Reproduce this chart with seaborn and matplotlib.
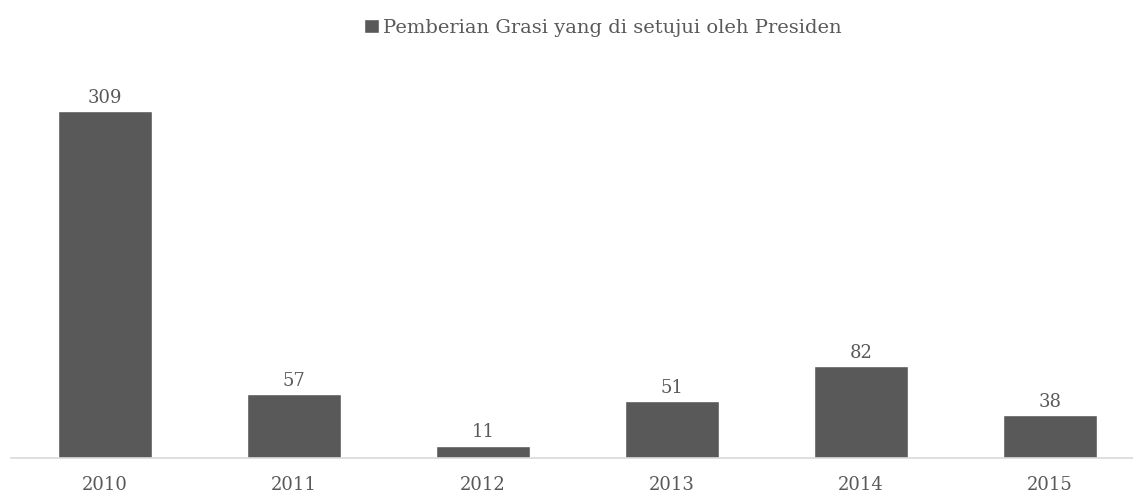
"""
Grasi yang disetujui Presiden per tahun, 2010-2015
"""

import pandas as pd
import seaborn as sns
import matplotlib.pyplot as plt

years = ["2010", "2011", "2012", "2013", "2014", "2015"]
grasi = [309, 57, 11, 51, 82, 38]
series_name = "Pemberian Grasi yang di setujui oleh Presiden"

df = pd.DataFrame({"tahun": years, "grasi": grasi})

sns.set_style("white")
plt.rcParams["font.family"] = ["DejaVu Serif", "DejaVu Sans"]

bar_color = "#595959"
text_color = "#595959"

fig = plt.figure(figsize=(11.33, 4.95), dpi=100)
# axes placed so the baseline sits near the bottom and slots span the width
ax = fig.add_axes([10.5 / 1133, 37 / 495, 1134 / 1133, 398 / 495])

sns.barplot(data=df, x="tahun", y="grasi", color=bar_color, width=0.5,
            saturation=1, label=series_name, ax=ax)

ax.set_ylim(0, 398 / 1.123)
ax.set_xlim(-0.5, 5.5)
for c in ax.containers:
    ax.bar_label(c, labels=[str(v) for v in grasi], padding=3,
                 fontsize=13, color=text_color)

ax.set_xlabel("")
ax.set_ylabel("")
ax.set_yticks([])
ax.tick_params(axis="x", length=0, pad=13, labelsize=13, labelcolor=text_color)
for side in ["top", "right", "left"]:
    ax.spines[side].set_visible(False)
ax.spines["bottom"].set_color("#d9d9d9")
ax.spines["bottom"].set_linewidth(1.2)

ax.legend(loc="center", bbox_to_anchor=(603 / 1133, 1 - 28 / 495),
          bbox_transform=fig.transFigure, frameon=False, fontsize=14,
          handlelength=0.75, handleheight=0.75, handletextpad=0.25,
          labelcolor=text_color)

fig.savefig("out.png", dpi=100)
